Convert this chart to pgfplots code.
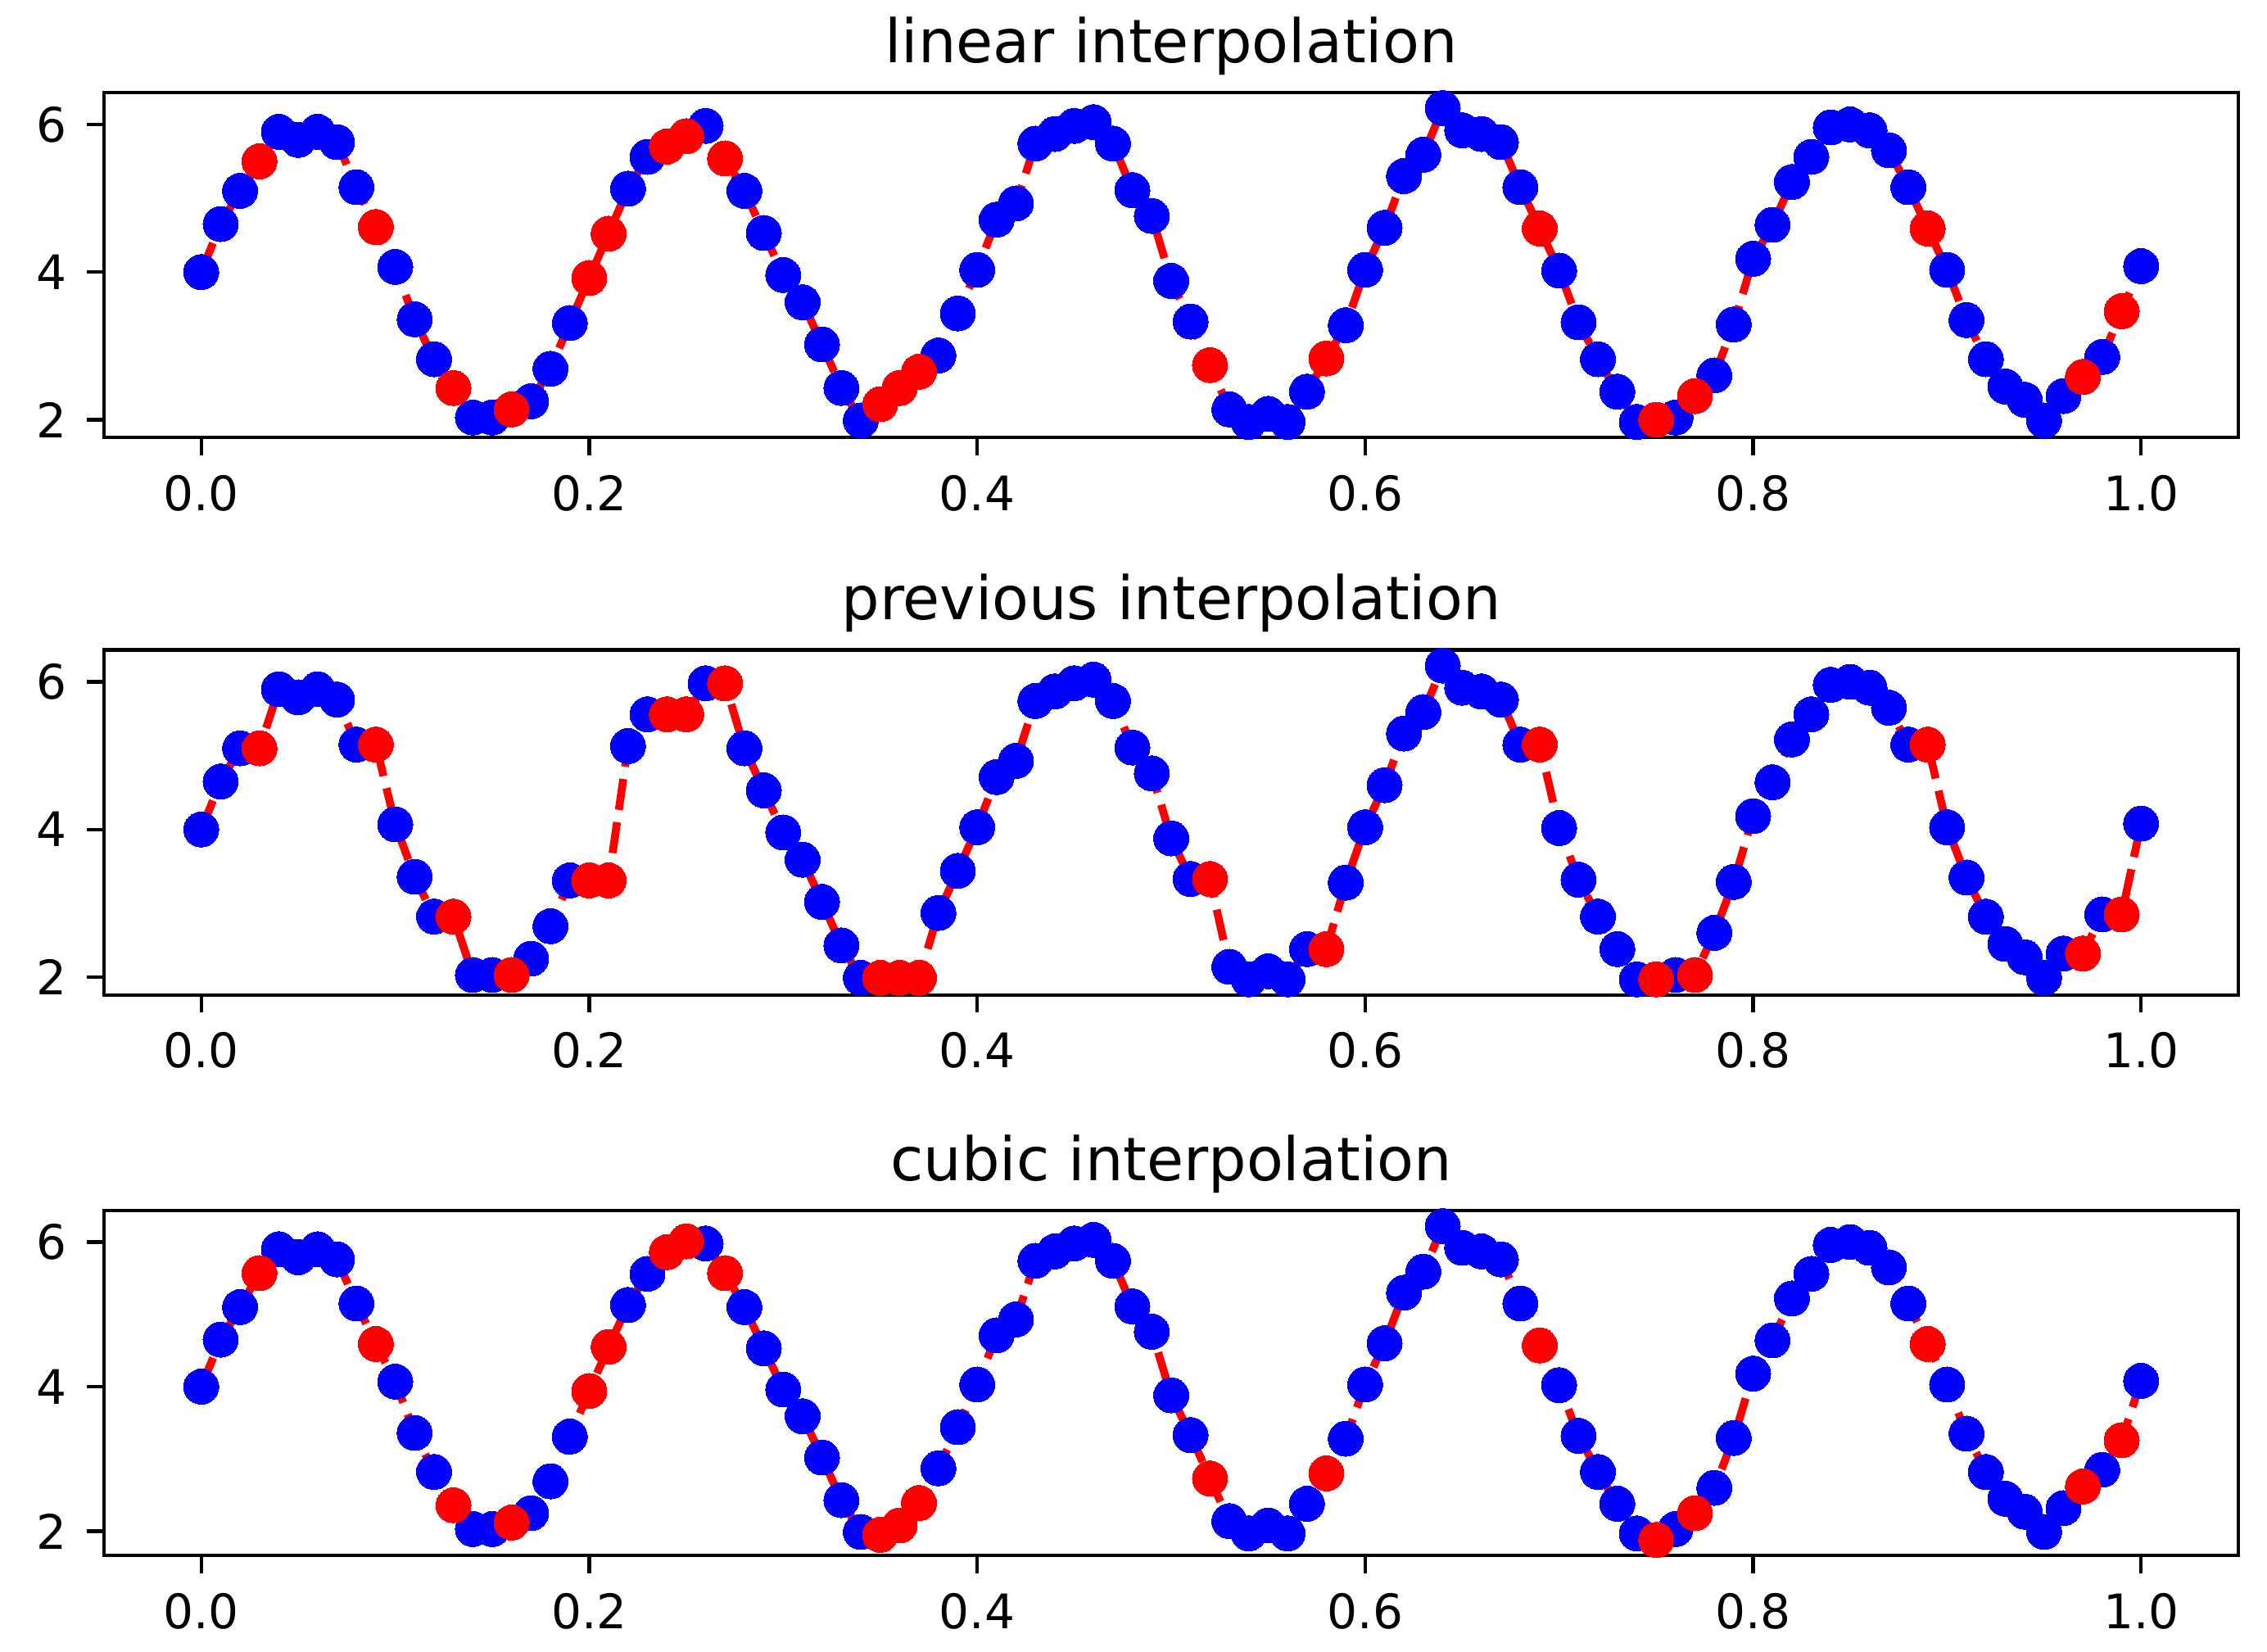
\documentclass[border=0pt]{standalone}
\usepackage{fontspec}
\setmainfont{DejaVu Sans}
\usepackage{pgfplots}
\usepackage{pgfplotstable}
\pgfplotsset{compat=1.18}

% x, known value (nan = missing), linear, previous, cubic
\pgfplotstableread{
x k lin prev cub
0.00 4.00 4.00 4.00 4.00
0.01 4.65 4.65 4.65 4.65
0.02 5.10 5.10 5.10 5.10
0.03 nan 5.50 5.10 5.57
0.04 5.90 5.90 5.90 5.90
0.05 5.79 5.79 5.79 5.79
0.06 5.90 5.90 5.90 5.90
0.07 5.76 5.76 5.76 5.76
0.08 5.15 5.15 5.15 5.15
0.09 nan 4.61 5.15 4.59
0.10 4.07 4.07 4.07 4.07
0.11 3.36 3.36 3.36 3.36
0.12 2.82 2.82 2.82 2.82
0.13 nan 2.43 2.82 2.36
0.14 2.03 2.03 2.03 2.03
0.15 2.03 2.03 2.03 2.03
0.16 nan 2.14 2.03 2.12
0.17 2.25 2.25 2.25 2.25
0.18 2.69 2.69 2.69 2.69
0.19 3.31 3.31 3.31 3.31
0.20 nan 3.92 3.31 3.94
0.21 nan 4.52 3.31 4.55
0.22 5.13 5.13 5.13 5.13
0.23 5.56 5.56 5.56 5.56
0.24 nan 5.70 5.56 5.86
0.25 nan 5.84 5.56 6.01
0.26 5.98 5.98 5.98 5.98
0.27 nan 5.54 5.98 5.57
0.28 5.10 5.10 5.10 5.10
0.29 4.53 4.53 4.53 4.53
0.30 3.96 3.96 3.96 3.96
0.31 3.59 3.59 3.59 3.59
0.32 3.02 3.02 3.02 3.02
0.33 2.43 2.43 2.43 2.43
0.34 1.99 1.99 1.99 1.99
0.35 nan 2.21 1.99 1.95
0.36 nan 2.43 1.99 2.08
0.37 nan 2.65 1.99 2.39
0.38 2.87 2.87 2.87 2.87
0.39 3.44 3.44 3.44 3.44
0.40 4.03 4.03 4.03 4.03
0.41 4.71 4.71 4.71 4.71
0.42 4.93 4.93 4.93 4.93
0.43 5.74 5.74 5.74 5.74
0.44 5.87 5.87 5.87 5.87
0.45 5.98 5.98 5.98 5.98
0.46 6.03 6.03 6.03 6.03
0.47 5.74 5.74 5.74 5.74
0.48 5.11 5.11 5.11 5.11
0.49 4.76 4.76 4.76 4.76
0.50 3.88 3.88 3.88 3.88
0.51 3.33 3.33 3.33 3.33
0.52 nan 2.74 3.33 2.73
0.53 2.14 2.14 2.14 2.14
0.54 1.97 1.97 1.97 1.97
0.55 2.08 2.08 2.08 2.08
0.56 1.97 1.97 1.97 1.97
0.57 2.38 2.38 2.38 2.38
0.58 nan 2.83 2.38 2.80
0.59 3.28 3.28 3.28 3.28
0.60 4.03 4.03 4.03 4.03
0.61 4.60 4.60 4.60 4.60
0.62 5.30 5.30 5.30 5.30
0.63 5.59 5.59 5.59 5.59
0.64 6.22 6.22 6.22 6.22
0.65 5.92 5.92 5.92 5.92
0.66 5.87 5.87 5.87 5.87
0.67 5.76 5.76 5.76 5.76
0.68 5.15 5.15 5.15 5.15
0.69 nan 4.59 5.15 4.57
0.70 4.02 4.02 4.02 4.02
0.71 3.32 3.32 3.32 3.32
0.72 2.82 2.82 2.82 2.82
0.73 2.38 2.38 2.38 2.38
0.74 1.97 1.97 1.97 1.97
0.75 nan 2.00 1.97 1.88
0.76 2.03 2.03 2.03 2.03
0.77 nan 2.32 2.03 2.25
0.78 2.60 2.60 2.60 2.60
0.79 3.29 3.29 3.29 3.29
0.80 4.18 4.18 4.18 4.18
0.81 4.64 4.64 4.64 4.64
0.82 5.22 5.22 5.22 5.22
0.83 5.56 5.56 5.56 5.56
0.84 5.96 5.96 5.96 5.96
0.85 6.00 6.00 6.00 6.00
0.86 5.92 5.92 5.92 5.92
0.87 5.65 5.65 5.65 5.65
0.88 5.15 5.15 5.15 5.15
0.89 nan 4.59 5.15 4.59
0.90 4.03 4.03 4.03 4.03
0.91 3.35 3.35 3.35 3.35
0.92 2.82 2.82 2.82 2.82
0.93 2.45 2.45 2.45 2.45
0.94 2.27 2.27 2.27 2.27
0.95 1.99 1.99 1.99 1.99
0.96 2.32 2.32 2.32 2.32
0.97 nan 2.58 2.32 2.62
0.98 2.85 2.85 2.85 2.85
0.99 nan 3.47 2.85 3.26
1.00 4.08 4.08 4.08 4.08
}\data

% the missing points only
\pgfplotstableread{
x lin prev cub
0.03 5.50 5.10 5.57
0.09 4.61 5.15 4.59
0.13 2.43 2.82 2.36
0.16 2.14 2.03 2.12
0.20 3.92 3.31 3.94
0.21 4.52 3.31 4.55
0.24 5.70 5.56 5.86
0.25 5.84 5.56 6.01
0.27 5.54 5.98 5.57
0.35 2.21 1.99 1.95
0.36 2.43 1.99 2.08
0.37 2.65 1.99 2.39
0.52 2.74 3.33 2.73
0.58 2.83 2.38 2.80
0.69 4.59 5.15 4.57
0.75 2.00 1.97 1.88
0.77 2.32 2.03 2.25
0.89 4.59 5.15 4.59
0.97 2.58 2.32 2.62
0.99 3.47 2.85 3.26
}\miss

\pgfplotsset{
  panel/.style={
    width=376.5pt, height=60.9pt, scale only axis,
    anchor=south west,
    xmin=-0.05, xmax=1.05,
    xtick={0,0.2,0.4,0.6,0.8,1.0},
    ytick={2,4,6},
    xticklabel style={/pgf/number format/.cd, fixed, fixed zerofill, precision=1},
    /pgf/number format/assume math mode=true,
    tick label style={font=\fontsize{8.4}{10}\selectfont, text=black},
    tick align=outside, major tick length=3.1pt,
    xtick pos=bottom, ytick pos=left,
    tick style={black, line width=0.6pt},
    axis line style={black, line width=0.6pt},
    title style={font=\fontsize{10.6}{12}\selectfont, at={(0.5,1)}, anchor=base, yshift=-0.7pt},
  },
  bluemk/.style={only marks, mark=*, mark size=3.1pt, color=blue, mark options={solid, fill=blue, draw=blue, line width=0pt}},
  redmk/.style={only marks, mark=*, mark size=3.1pt, color=red, mark options={solid, fill=red, draw=red, line width=0pt}},
  redln/.style={no marks, color=red, line width=1.4pt, dash pattern=on 5.5pt off 2.2pt},
}

\begin{document}
\begin{tikzpicture}
\path[use as bounding box] (0,0) rectangle (400pt,291.47pt);

\begin{axis}[panel, at={(18.4pt,214.25pt)}, ymin=1.7575, ymax=6.4325, title={linear interpolation}]
\addplot[bluemk] table[x=x, y=k] {\data};
\addplot[redln] table[x=x, y=lin] {\data};
\addplot[redmk] table[x=x, y=lin] {\miss};
\end{axis}

\begin{axis}[panel, at={(18.4pt,115.9pt)}, ymin=1.7575, ymax=6.4325, title={previous interpolation}]
\addplot[bluemk] table[x=x, y=k] {\data};
\addplot[redln] table[x=x, y=prev] {\data};
\addplot[redmk] table[x=x, y=prev] {\miss};
\end{axis}

\begin{axis}[panel, at={(18.4pt,17.0pt)}, ymin=1.663, ymax=6.437, title={cubic interpolation}]
\addplot[bluemk] table[x=x, y=k] {\data};
\addplot[redln] table[x=x, y=cub] {\data};
\addplot[redmk] table[x=x, y=cub] {\miss};
\end{axis}
\end{tikzpicture}
\end{document}
